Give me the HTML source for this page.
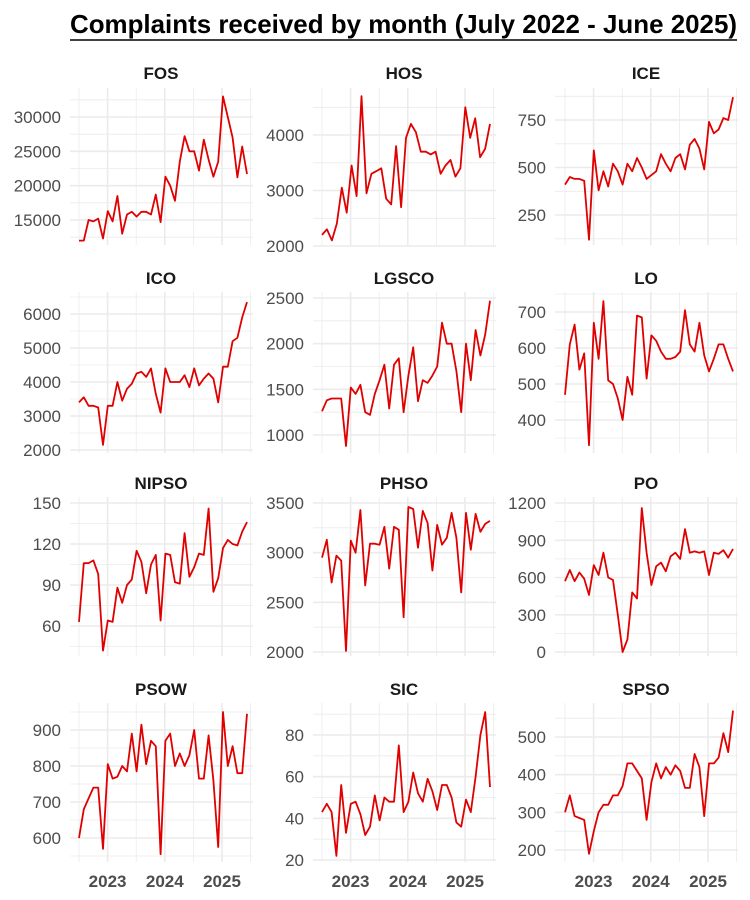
<!DOCTYPE html>
<html><head><meta charset="utf-8"><style>
body{margin:0;background:#fff;}
svg{display:block;font-family:"Liberation Sans",sans-serif;}
</style></head><body>
<svg id="s" width="750" height="900" xmlns="http://www.w3.org/2000/svg">
<text x="70" y="33" font-size="26" font-weight="bold" fill="#000" textLength="667" lengthAdjust="spacingAndGlyphs">Complaints received by month (July 2022 - June 2025)</text>
<line x1="70" y1="40" x2="737" y2="40" stroke="#000" stroke-width="1.5"/>
</svg>
<script>
var P=[
["FOS",0,0,[15000,20000,25000,30000],220,117,[12,12,15,14.8,15.2,12.3,16.3,14.8,18.5,13,15.8,16.2,15.5,16.2,16.2,15.8,18.7,14.7,21.3,20,17.8,23.5,27.2,25,25,22.2,26.7,23.8,21.3,23.5,33,30,27,21.2,25.7,21.7].map(function(v){return v*1000})],
["HOS",1,0,[2000,3000,4000],246,135,[2200,2300,2100,2400,3050,2600,3450,2900,4700,2950,3300,3350,3400,2850,2750,3800,2700,3950,4200,4050,3700,3700,3650,3700,3300,3450,3550,3250,3400,4500,3950,4300,3600,3750,4200]],
["ICE",2,0,[250,500,750],215,120,[410,450,440,440,430,120,590,380,480,400,520,480,410,520,480,550,500,440,460,480,570,520,480,550,570,490,620,650,600,490,740,680,700,760,750,870]],
["ICO",0,1,[2000,3000,4000,5000,6000],450,314,[3400,3550,3300,3300,3250,2150,3300,3300,4000,3450,3800,3950,4250,4300,4150,4400,3650,3100,4400,4000,4000,4000,4200,3850,4400,3900,4100,4250,4100,3400,4450,4450,5200,5300,5900,6350]],
["LGSCO",1,1,[1000,1500,2000,2500],435,298,[1260,1380,1400,1400,1400,880,1520,1450,1550,1250,1220,1450,1600,1770,1290,1770,1840,1250,1650,1960,1370,1600,1570,1650,1750,2230,2000,2000,1700,1250,2000,1600,2150,1870,2100,2470]],
["LO",2,1,[400,500,600,700],420,312,[470,610,665,540,585,330,670,570,730,510,500,460,400,520,470,690,685,515,635,620,590,570,570,575,590,705,610,590,670,580,535,570,610,610,570,535]],
["NIPSO",0,2,[60,90,120,150],626,503,[63,106,106,108,98,42,64,63,88,77,90,94,115,107,84,105,112,64,113,112,92,91,128,96,103,113,112,146,85,95,117,123,120,119,129,136]],
["PHSO",1,2,[2000,2500,3000,3500],652,503,[2950,3130,2700,2970,2920,2010,3120,3000,3430,2670,3090,3090,3080,3260,2840,3260,3230,2350,3460,3440,3050,3420,3300,2820,3280,3080,3150,3400,3150,2600,3400,3030,3390,3210,3290,3320]],
["PO",2,2,[0,300,600,900,1200],652,503,[570,660,570,640,590,460,700,620,800,600,580,300,0,100,480,430,1160,800,540,690,720,650,770,800,750,990,800,810,800,810,620,800,790,820,760,830]],
["PSOW",0,3,[600,700,800,900],838,730,[600,680,710,740,740,570,805,765,770,800,785,890,785,915,805,870,855,555,870,890,800,835,800,830,900,765,765,885,760,575,950,800,855,780,780,945]],
["SIC",1,3,[20,40,60,80],860,735,[43,47,43,22,56,33,47,48,42,32,36,51,39,50,48,48,75,43,48,62,52,48,59,53,44,56,56,50,38,36,49,43,60,80,91,55]],
["SPSO",2,3,[200,300,400,500],850,737,[300,345,290,285,280,190,250,300,320,320,345,345,370,430,430,410,390,280,380,430,390,420,400,425,410,365,365,455,420,290,430,430,445,510,460,570]]
];
var colX=[70,313,555],x0s=[79,322,565],rowY=[[88,245],[292,453],[497,656],[703,862]],titleY=[79,284,489,695];
var s=document.getElementById('s'),h='';
P.forEach(function(p){
 var c=p[1],r=p[2],tk=p[3],L=colX[c],R=L+183,T=rowY[r][0],B=rowY[r][1];
 var v0=tk[0],v1=tk[tk.length-1],py0=p[4],py1=p[5];
 function Y(v){return py0+(v-v0)*(py1-py0)/(v1-v0);}
 var st=tk[1]-tk[0];
 for(var v=v0-st*3;v<=v1+st*3;v+=st/2){var y=Y(v);if(y>=T-1&&y<=B+1){var maj=Math.abs((v-v0)/st-Math.round((v-v0)/st))<1e-6;h+='<line x1="'+L+'" x2="'+R+'" y1="'+y.toFixed(1)+'" y2="'+y.toFixed(1)+'" stroke="#ebebeb" stroke-width="'+(maj?1.6:0.8)+'"/>';}}
 var xs=x0s[c];
 for(var i=0;i<7;i++){var x=xs+i*28.6;h+='<line x1="'+x.toFixed(1)+'" x2="'+x.toFixed(1)+'" y1="'+T+'" y2="'+B+'" stroke="#ebebeb" stroke-width="'+(i%2?1.6:0.8)+'"/>';}
 tk.forEach(function(v){h+='<text x="'+(L-9)+'" y="'+(Y(v)+6).toFixed(1)+'" text-anchor="end" font-size="17" fill="#4d4d4d">'+v+'</text>';});
 h+='<text x="'+(L+91)+'" y="'+titleY[r]+'" text-anchor="middle" font-size="17" font-weight="bold" fill="#1a1a1a">'+p[0]+'</text>';
 var d=p[6],n=d.length,pts=d.map(function(v,i){return (xs+i*168/(n-1)).toFixed(1)+','+Y(v).toFixed(1);}).join(' ');
 h+='<polyline points="'+pts+'" fill="none" stroke="#e00000" stroke-width="1.8" stroke-linejoin="round"/>';
 if(r==3){["2023","2024","2025"].forEach(function(t,k){h+='<text x="'+(xs+28.6*(1+2*k)).toFixed(1)+'" y="887" text-anchor="middle" font-size="17" font-weight="bold" fill="#4d4d4d">'+t+'</text>';});}
});
s.insertAdjacentHTML('beforeend',h);
</script>
</body></html>
